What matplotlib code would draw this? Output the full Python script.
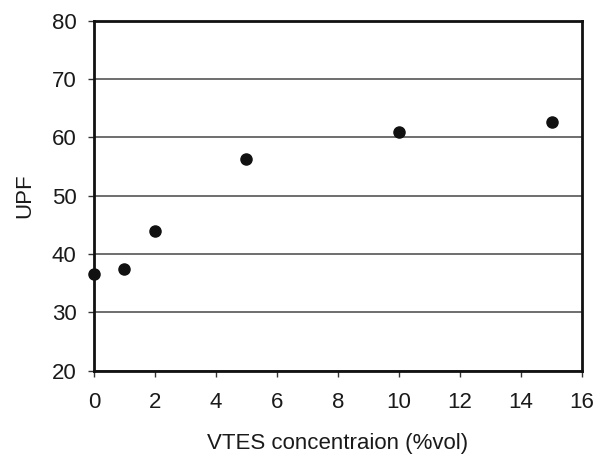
import matplotlib.pyplot as plt

plt.rcParams['font.family'] = ['Liberation Sans', 'DejaVu Sans']

vtes = [0, 1, 2, 5, 10, 15]
upf = [36.5, 37.5, 43.9, 56.3, 60.9, 62.6]

fig = plt.figure(figsize=(5.94, 4.54), dpi=100)
ax = fig.add_axes([0.158, 0.1835, 0.822, 0.7705])

ax.set_axisbelow(True)
ax.grid(axis='y', color='#555555', linewidth=1.2)
ax.plot(vtes, upf, 'o', color='#111111', markersize=8, clip_on=False, zorder=3)

ax.set_xlim(0, 16)
ax.set_ylim(20, 80)
ax.set_xticks(range(0, 17, 2))
ax.set_yticks(range(20, 81, 10))
ax.tick_params(labelsize=16, length=4.5, width=1, color='#333333',
               labelcolor='#1a1a1a')
ax.tick_params(axis='y', pad=8)
ax.tick_params(axis='x', pad=11)
for s in ax.spines.values():
    s.set_linewidth(2)
    s.set_color('#111111')

ax.set_xlabel('VTES concentraion (%vol)', fontsize=16, labelpad=14.5, color='#1a1a1a')
ax.set_ylabel('UPF', fontsize=16, labelpad=12, color='#1a1a1a')

fig.savefig('out.png', dpi=100)
